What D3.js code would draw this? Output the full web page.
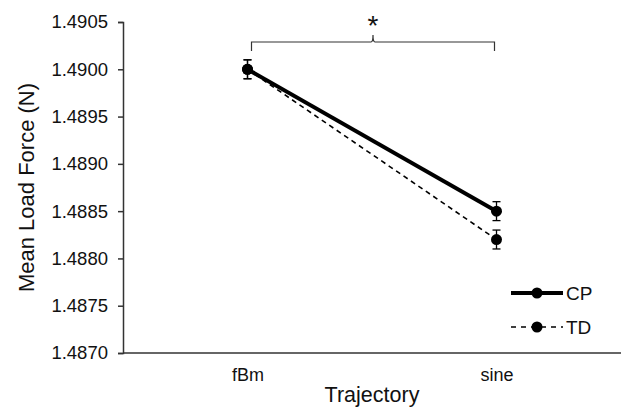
<!DOCTYPE html>
<html>
<head>
<meta charset="utf-8">
<script src="https://cdn.jsdelivr.net/npm/d3@7"></script>
<style>
  body { margin: 0; background: #fff; }
  text { font-family: Arial, "Liberation Sans", sans-serif; fill: #111; }
</style>
</head>
<body>
<script>
// data
var categories = ["fBm", "sine"];
var cpMeans = [1.4900, 1.4885];
var cpErr = [0.0001, 0.0001];
var tdMeans = [1.4900, 1.4882];
var tdErr = [0.0001, 0.0001];
var yTicks = [1.4870, 1.4875, 1.4880, 1.4885, 1.4890, 1.4895, 1.4900, 1.4905];
var seriesNames = ["CP", "TD"];

var width = 622, height = 407;
var plotLeft = 123, plotRight = 621, plotTop = 22, plotBottom = 353;

var svg = d3.select("body").append("svg")
    .attr("width", width)
    .attr("height", height);

var x = d3.scalePoint()
    .domain(categories)
    .range([plotLeft, plotRight])
    .padding(0.5);

var y = d3.scaleLinear()
    .domain([1.4870, 1.4905])
    .range([plotBottom, plotTop]);

// y axis
var yAxis = svg.append("g")
    .attr("transform", "translate(" + plotLeft + ",0)")
    .call(d3.axisLeft(y).tickValues(yTicks).tickFormat(d3.format(".4f")).tickSize(5).tickPadding(10));
yAxis.select(".domain").attr("stroke", "#333").attr("stroke-width", 1.5);
yAxis.selectAll(".tick line").attr("stroke", "#333").attr("stroke-width", 1.5);
yAxis.selectAll(".tick text").style("font-size", "18.5px").attr("fill", "#111");

// x axis
var xAxis = svg.append("g")
    .attr("transform", "translate(0," + plotBottom + ")")
    .call(d3.axisBottom(x).tickSize(0).tickPadding(15));
xAxis.select(".domain").attr("d", "M" + plotLeft + ",0H" + plotRight).attr("stroke", "#333").attr("stroke-width", 1.5);
xAxis.selectAll(".tick text").style("font-size", "18px").attr("fill", "#111");

// axis titles
svg.append("text")
    .attr("x", (plotLeft + plotRight) / 2)
    .attr("y", 402)
    .attr("text-anchor", "middle")
    .style("font-size", "21.5px")
    .text("Trajectory");

svg.append("text")
    .attr("transform", "translate(34," + ((plotTop + plotBottom) / 2) + ") rotate(-90)")
    .attr("text-anchor", "middle")
    .style("font-size", "22px")
    .text("Mean Load Force (N)");

function series(means, errs) {
  return categories.map(function(c, i) { return { cat: c, v: means[i], e: errs[i] }; });
}
var cp = series(cpMeans, cpErr);
var td = series(tdMeans, tdErr);

var line = d3.line()
    .x(function(d) { return x(d.cat); })
    .y(function(d) { return y(d.v); });

// TD dashed line
svg.append("path")
    .datum(td)
    .attr("d", line)
    .attr("fill", "none")
    .attr("stroke", "#000")
    .attr("stroke-width", 1.6)
    .attr("stroke-dasharray", "5,4");

// CP thick line
svg.append("path")
    .datum(cp)
    .attr("d", line)
    .attr("fill", "none")
    .attr("stroke", "#000")
    .attr("stroke-width", 4);

// error bars + markers
[td, cp].forEach(function(s) {
  var g = svg.append("g");
  s.forEach(function(d) {
    var cx = x(d.cat);
    g.append("line")
        .attr("x1", cx).attr("x2", cx)
        .attr("y1", y(d.v - d.e)).attr("y2", y(d.v + d.e))
        .attr("stroke", "#000").attr("stroke-width", 1.3);
    [d.v - d.e, d.v + d.e].forEach(function(v) {
      g.append("line")
          .attr("x1", cx - 4).attr("x2", cx + 4)
          .attr("y1", y(v)).attr("y2", y(v))
          .attr("stroke", "#000").attr("stroke-width", 1.3);
    });
    g.append("circle")
        .attr("cx", cx).attr("cy", y(d.v))
        .attr("r", 5.5)
        .attr("fill", "#000");
  });
});

// significance bracket
var bx1 = x(categories[0]) + 4, bx2 = x(categories[1]) - 2;
var bm = (bx1 + bx2) / 2;
svg.append("path")
    .attr("d", "M" + bx1 + ",51V42H" + (bm - 2) + "Q" + bm + ",42 " + bm + ",35Q" + bm + ",42 " + (bm + 2) + ",42H" + bx2 + "V51")
    .attr("fill", "none")
    .attr("stroke", "#333")
    .attr("stroke-width", 1.2);
svg.append("text")
    .attr("x", bm)
    .attr("y", 35)
    .attr("text-anchor", "middle")
    .style("font-size", "28px")
    .text("*");

// legend
var legend = svg.append("g");
seriesNames.forEach(function(name, i) {
  var ly = 293 + i * 34;
  legend.append("line")
      .attr("x1", 511).attr("x2", 563)
      .attr("y1", ly).attr("y2", ly)
      .attr("stroke", "#000")
      .attr("stroke-width", i === 0 ? 4 : 1.6)
      .attr("stroke-dasharray", i === 0 ? null : "5,5");
  legend.append("circle")
      .attr("cx", 537).attr("cy", ly).attr("r", 5.5).attr("fill", "#000");
  legend.append("text")
      .attr("x", 566)
      .attr("y", ly + 7)
      .style("font-size", "19px")
      .text(name);
});
</script>
</body>
</html>
